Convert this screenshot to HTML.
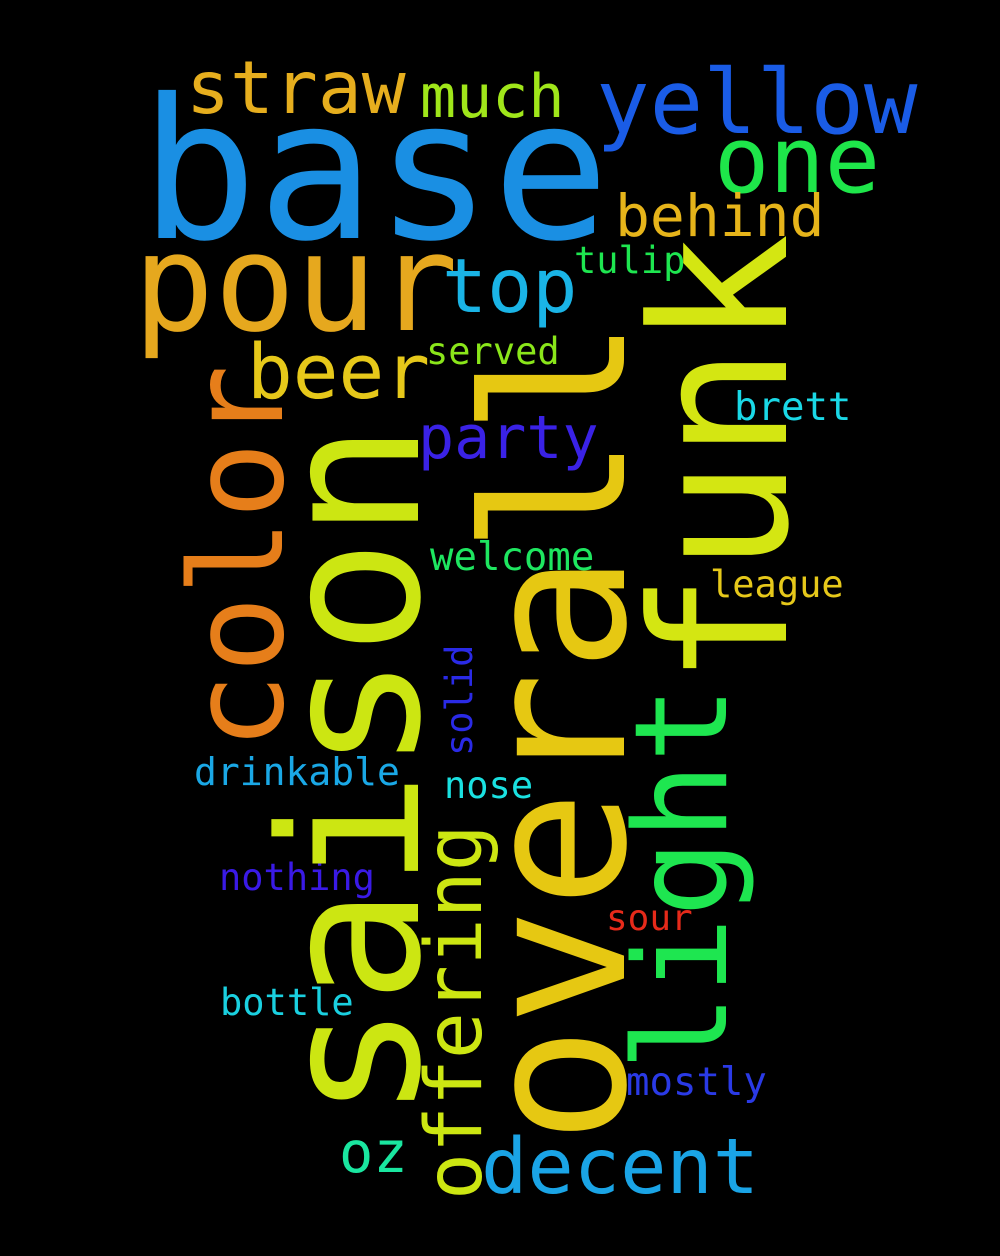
<!DOCTYPE html>
<html><head><meta charset="utf-8"><style>
html,body{margin:0;padding:0;background:#000;}
svg{display:block}
text{font-family:"DejaVu Sans Mono","Liberation Mono",monospace;}
</style></head><body>
<svg width="1000" height="1256" viewBox="0 0 1000 1256">
<rect width="1000" height="1256" fill="#000"/>
<text x="140" y="238" font-size="195" fill="#1a8fe3">base</text>
<text x="133" y="330" font-size="135" fill="#e6a81e">pour</text>
<text x="596" y="133" font-size="89" fill="#1a5ce6">yellow</text>
<text x="714" y="192" font-size="92" fill="#1ee64a">one</text>
<text x="186" y="113" font-size="73" fill="#e6ae1e">straw</text>
<text x="420" y="117" font-size="60" fill="#a0e61a">much</text>
<text x="615" y="236" font-size="58" fill="#e6b41a">behind</text>
<text x="442" y="312" font-size="75" fill="#1ab4e6">top</text>
<text x="574" y="273" font-size="37" fill="#1ee650">tulip</text>
<text x="247" y="398" font-size="76" fill="#e6c81a">beer</text>
<text x="426" y="364" font-size="37" fill="#8ae61a">served</text>
<text x="418" y="458" font-size="60" fill="#3a22e6">party</text>
<text x="734" y="420" font-size="39" fill="#1ad8e6">brett</text>
<text x="430" y="570" font-size="39" fill="#1ee660">welcome</text>
<text x="710" y="597" font-size="37" fill="#e6c81a">league</text>
<text x="194" y="785" font-size="38" fill="#1aa8e6">drinkable</text>
<text x="444" y="798" font-size="37" fill="#1ae0e0">nose</text>
<text x="219" y="890" font-size="37" fill="#3a1ae6">nothing</text>
<text x="606" y="930" font-size="36" fill="#e62a1a">sour</text>
<text x="220" y="1015" font-size="37" fill="#1ad0e0">bottle</text>
<text x="626" y="1095" font-size="39" fill="#2a3ae6">mostly</text>
<text x="339" y="1172" font-size="57" fill="#1ae6a0">oz</text>
<text x="481" y="1193" font-size="77" fill="#1aa4e6">decent</text>
<text transform="translate(282,750) rotate(-90)" font-size="128" fill="#e67e1a">color</text>
<text transform="translate(418,1120) rotate(-90)" font-size="193" fill="#cce612">saison</text>
<text transform="translate(624,1144) rotate(-90)" font-size="196" fill="#e6c812">overall</text>
<text transform="translate(786,686) rotate(-90)" font-size="188" fill="#d4e612">funk</text>
<text transform="translate(726,1071) rotate(-90)" font-size="128" fill="#1ee650">light</text>
<text transform="translate(481,1200) rotate(-90)" font-size="78" fill="#cce612">offering</text>
<text transform="translate(472,756) rotate(-90)" font-size="37" fill="#2a2ae6">solid</text>
</svg>
</body></html>
